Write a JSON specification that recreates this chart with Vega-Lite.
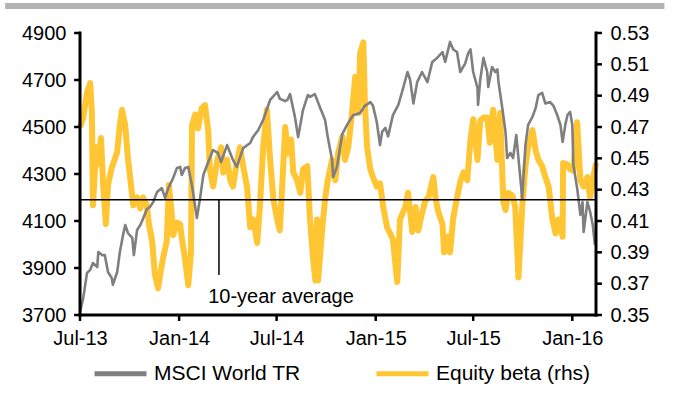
{
  "$schema": "https://vega.github.io/schema/vega-lite/v6.json",
  "width": 516,
  "height": 282,
  "autosize": "none",
  "padding": {"left": 80, "top": 33, "right": 95, "bottom": 82},
  "background": "white",
  "title": {"text": "Chart 3: MSCI World TR, global equity beta vs average (rhs)", "anchor": "start", "fontSize": 15, "fontWeight": "normal", "color": "black", "baseline": "alphabetic", "offset": 3},
  "config": {
    "font": "Liberation Sans",
    "view": {"stroke": null},
    "axis": {"grid": false, "labelColor": "black", "labelFontSize": 20, "labelFlush": false},
    "legend": {"orient": "none", "legendX": 12, "legendY": 312, "direction": "horizontal", "title": null, "padding": 0, "labelFontSize": 21, "labelColor": "black", "symbolType": "stroke", "symbolSize": 2700, "symbolStrokeWidth": 5, "labelOffset": 5, "columnPadding": 65}
  },
  "datasets": {
    "msci": [
      {"d": "2013-07-01", "v": 3713}, {"d": "2013-07-07", "v": 3772}, {"d": "2013-07-14", "v": 3879}, {"d": "2013-07-20", "v": 3892}, {"d": "2013-07-25", "v": 3921}, {"d": "2013-08-02", "v": 3904}, {"d": "2013-08-04", "v": 3968}, {"d": "2013-08-11", "v": 3955}, {"d": "2013-08-16", "v": 3955}, {"d": "2013-08-22", "v": 3883}, {"d": "2013-08-29", "v": 3857}, {"d": "2013-08-31", "v": 3828}, {"d": "2013-09-08", "v": 3883}, {"d": "2013-09-13", "v": 3968}, {"d": "2013-09-19", "v": 4041}, {"d": "2013-09-23", "v": 4083}, {"d": "2013-09-28", "v": 4049}, {"d": "2013-10-06", "v": 4028}, {"d": "2013-10-09", "v": 3955}, {"d": "2013-10-15", "v": 4062}, {"d": "2013-10-21", "v": 4083}, {"d": "2013-10-26", "v": 4110}, {"d": "2013-11-02", "v": 4150}, {"d": "2013-11-08", "v": 4160}, {"d": "2013-11-14", "v": 4181}, {"d": "2013-11-21", "v": 4223}, {"d": "2013-11-30", "v": 4240}, {"d": "2013-12-06", "v": 4198}, {"d": "2013-12-12", "v": 4240}, {"d": "2013-12-21", "v": 4283}, {"d": "2013-12-28", "v": 4326}, {"d": "2014-01-03", "v": 4330}, {"d": "2014-01-06", "v": 4296}, {"d": "2014-01-12", "v": 4326}, {"d": "2014-01-18", "v": 4330}, {"d": "2014-01-25", "v": 4250}, {"d": "2014-02-03", "v": 4113}, {"d": "2014-02-09", "v": 4198}, {"d": "2014-02-15", "v": 4296}, {"d": "2014-02-22", "v": 4338}, {"d": "2014-03-05", "v": 4402}, {"d": "2014-03-14", "v": 4390}, {"d": "2014-03-20", "v": 4351}, {"d": "2014-03-31", "v": 4423}, {"d": "2014-04-11", "v": 4360}, {"d": "2014-04-18", "v": 4330}, {"d": "2014-04-30", "v": 4410}, {"d": "2014-05-13", "v": 4432}, {"d": "2014-05-18", "v": 4457}, {"d": "2014-05-28", "v": 4487}, {"d": "2014-06-06", "v": 4530}, {"d": "2014-06-19", "v": 4615}, {"d": "2014-07-02", "v": 4649}, {"d": "2014-07-07", "v": 4620}, {"d": "2014-07-17", "v": 4610}, {"d": "2014-07-21", "v": 4615}, {"d": "2014-07-26", "v": 4640}, {"d": "2014-08-04", "v": 4543}, {"d": "2014-08-10", "v": 4457}, {"d": "2014-08-19", "v": 4572}, {"d": "2014-08-28", "v": 4636}, {"d": "2014-09-01", "v": 4628}, {"d": "2014-09-10", "v": 4640}, {"d": "2014-09-20", "v": 4581}, {"d": "2014-09-29", "v": 4530}, {"d": "2014-10-04", "v": 4457}, {"d": "2014-10-12", "v": 4360}, {"d": "2014-10-14", "v": 4287}, {"d": "2014-10-21", "v": 4330}, {"d": "2014-10-27", "v": 4415}, {"d": "2014-10-31", "v": 4470}, {"d": "2014-11-09", "v": 4510}, {"d": "2014-11-20", "v": 4550}, {"d": "2014-12-03", "v": 4560}, {"d": "2014-12-12", "v": 4590}, {"d": "2014-12-22", "v": 4606}, {"d": "2014-12-27", "v": 4590}, {"d": "2015-01-03", "v": 4521}, {"d": "2015-01-09", "v": 4423}, {"d": "2015-01-13", "v": 4480}, {"d": "2015-01-19", "v": 4496}, {"d": "2015-01-24", "v": 4460}, {"d": "2015-02-02", "v": 4551}, {"d": "2015-02-12", "v": 4594}, {"d": "2015-02-21", "v": 4666}, {"d": "2015-03-01", "v": 4734}, {"d": "2015-03-06", "v": 4700}, {"d": "2015-03-12", "v": 4600}, {"d": "2015-03-19", "v": 4691}, {"d": "2015-03-28", "v": 4734}, {"d": "2015-04-07", "v": 4691}, {"d": "2015-04-16", "v": 4777}, {"d": "2015-04-25", "v": 4794}, {"d": "2015-05-05", "v": 4819}, {"d": "2015-05-10", "v": 4777}, {"d": "2015-05-19", "v": 4862}, {"d": "2015-05-25", "v": 4830}, {"d": "2015-06-01", "v": 4819}, {"d": "2015-06-07", "v": 4734}, {"d": "2015-06-16", "v": 4770}, {"d": "2015-06-22", "v": 4815}, {"d": "2015-06-26", "v": 4830}, {"d": "2015-07-01", "v": 4734}, {"d": "2015-07-09", "v": 4666}, {"d": "2015-07-10", "v": 4594}, {"d": "2015-07-14", "v": 4700}, {"d": "2015-07-20", "v": 4794}, {"d": "2015-07-27", "v": 4734}, {"d": "2015-07-29", "v": 4670}, {"d": "2015-08-05", "v": 4755}, {"d": "2015-08-11", "v": 4734}, {"d": "2015-08-15", "v": 4745}, {"d": "2015-08-17", "v": 4691}, {"d": "2015-08-24", "v": 4581}, {"d": "2015-08-30", "v": 4479}, {"d": "2015-09-02", "v": 4368}, {"d": "2015-09-08", "v": 4390}, {"d": "2015-09-13", "v": 4368}, {"d": "2015-09-19", "v": 4466}, {"d": "2015-09-23", "v": 4368}, {"d": "2015-09-30", "v": 4198}, {"d": "2015-10-06", "v": 4423}, {"d": "2015-10-11", "v": 4509}, {"d": "2015-10-19", "v": 4543}, {"d": "2015-10-25", "v": 4581}, {"d": "2015-10-30", "v": 4636}, {"d": "2015-11-06", "v": 4645}, {"d": "2015-11-12", "v": 4600}, {"d": "2015-11-21", "v": 4606}, {"d": "2015-11-27", "v": 4590}, {"d": "2015-12-04", "v": 4551}, {"d": "2015-12-10", "v": 4509}, {"d": "2015-12-14", "v": 4436}, {"d": "2015-12-19", "v": 4509}, {"d": "2015-12-23", "v": 4551}, {"d": "2015-12-28", "v": 4564}, {"d": "2016-01-01", "v": 4509}, {"d": "2016-01-03", "v": 4338}, {"d": "2016-01-10", "v": 4240}, {"d": "2016-01-16", "v": 4126}, {"d": "2016-01-20", "v": 4181}, {"d": "2016-01-22", "v": 4053}, {"d": "2016-01-29", "v": 4181}, {"d": "2016-02-03", "v": 4140}, {"d": "2016-02-08", "v": 4083}, {"d": "2016-02-12", "v": 3998}
    ],
    "beta": [
      {"d": "2013-07-01", "v": 0.470}, {"d": "2013-07-07", "v": 0.476}, {"d": "2013-07-14", "v": 0.492}, {"d": "2013-07-20", "v": 0.498}, {"d": "2013-07-23", "v": 0.480}, {"d": "2013-07-25", "v": 0.420}, {"d": "2013-07-31", "v": 0.457}, {"d": "2013-08-03", "v": 0.446}, {"d": "2013-08-09", "v": 0.463}, {"d": "2013-08-13", "v": 0.433}, {"d": "2013-08-18", "v": 0.408}, {"d": "2013-08-22", "v": 0.433}, {"d": "2013-08-29", "v": 0.444}, {"d": "2013-09-02", "v": 0.448}, {"d": "2013-09-08", "v": 0.454}, {"d": "2013-09-13", "v": 0.471}, {"d": "2013-09-17", "v": 0.481}, {"d": "2013-09-23", "v": 0.471}, {"d": "2013-09-28", "v": 0.450}, {"d": "2013-10-02", "v": 0.438}, {"d": "2013-10-08", "v": 0.420}, {"d": "2013-10-15", "v": 0.425}, {"d": "2013-10-21", "v": 0.418}, {"d": "2013-10-26", "v": 0.425}, {"d": "2013-11-02", "v": 0.420}, {"d": "2013-11-06", "v": 0.408}, {"d": "2013-11-12", "v": 0.397}, {"d": "2013-11-17", "v": 0.376}, {"d": "2013-11-23", "v": 0.367}, {"d": "2013-11-28", "v": 0.378}, {"d": "2013-12-02", "v": 0.386}, {"d": "2013-12-09", "v": 0.397}, {"d": "2013-12-13", "v": 0.433}, {"d": "2013-12-18", "v": 0.416}, {"d": "2013-12-21", "v": 0.401}, {"d": "2013-12-28", "v": 0.409}, {"d": "2014-01-03", "v": 0.408}, {"d": "2014-01-06", "v": 0.399}, {"d": "2014-01-12", "v": 0.386}, {"d": "2014-01-18", "v": 0.369}, {"d": "2014-01-23", "v": 0.390}, {"d": "2014-01-25", "v": 0.471}, {"d": "2014-01-31", "v": 0.478}, {"d": "2014-02-05", "v": 0.469}, {"d": "2014-02-12", "v": 0.482}, {"d": "2014-02-18", "v": 0.484}, {"d": "2014-02-24", "v": 0.468}, {"d": "2014-02-27", "v": 0.443}, {"d": "2014-03-05", "v": 0.432}, {"d": "2014-03-13", "v": 0.449}, {"d": "2014-03-20", "v": 0.457}, {"d": "2014-03-24", "v": 0.441}, {"d": "2014-03-31", "v": 0.449}, {"d": "2014-04-06", "v": 0.436}, {"d": "2014-04-11", "v": 0.432}, {"d": "2014-04-18", "v": 0.447}, {"d": "2014-04-24", "v": 0.457}, {"d": "2014-04-30", "v": 0.445}, {"d": "2014-05-07", "v": 0.432}, {"d": "2014-05-13", "v": 0.406}, {"d": "2014-05-19", "v": 0.411}, {"d": "2014-05-26", "v": 0.396}, {"d": "2014-05-31", "v": 0.419}, {"d": "2014-06-06", "v": 0.457}, {"d": "2014-06-13", "v": 0.481}, {"d": "2014-06-19", "v": 0.449}, {"d": "2014-06-25", "v": 0.424}, {"d": "2014-07-02", "v": 0.411}, {"d": "2014-07-07", "v": 0.404}, {"d": "2014-07-13", "v": 0.443}, {"d": "2014-07-17", "v": 0.470}, {"d": "2014-07-22", "v": 0.453}, {"d": "2014-07-28", "v": 0.462}, {"d": "2014-08-01", "v": 0.441}, {"d": "2014-08-08", "v": 0.436}, {"d": "2014-08-14", "v": 0.428}, {"d": "2014-08-19", "v": 0.443}, {"d": "2014-08-27", "v": 0.445}, {"d": "2014-09-01", "v": 0.411}, {"d": "2014-09-07", "v": 0.385}, {"d": "2014-09-11", "v": 0.372}, {"d": "2014-09-14", "v": 0.411}, {"d": "2014-09-16", "v": 0.372}, {"d": "2014-09-24", "v": 0.406}, {"d": "2014-09-29", "v": 0.424}, {"d": "2014-10-04", "v": 0.436}, {"d": "2014-10-12", "v": 0.449}, {"d": "2014-10-18", "v": 0.436}, {"d": "2014-10-23", "v": 0.453}, {"d": "2014-10-31", "v": 0.464}, {"d": "2014-11-05", "v": 0.449}, {"d": "2014-11-11", "v": 0.457}, {"d": "2014-11-18", "v": 0.479}, {"d": "2014-11-24", "v": 0.502}, {"d": "2014-11-30", "v": 0.479}, {"d": "2014-12-03", "v": 0.517}, {"d": "2014-12-09", "v": 0.524}, {"d": "2014-12-12", "v": 0.485}, {"d": "2014-12-16", "v": 0.457}, {"d": "2014-12-22", "v": 0.443}, {"d": "2014-12-27", "v": 0.438}, {"d": "2015-01-03", "v": 0.432}, {"d": "2015-01-09", "v": 0.434}, {"d": "2015-01-15", "v": 0.419}, {"d": "2015-01-22", "v": 0.406}, {"d": "2015-01-28", "v": 0.402}, {"d": "2015-02-02", "v": 0.398}, {"d": "2015-02-10", "v": 0.371}, {"d": "2015-02-15", "v": 0.411}, {"d": "2015-02-25", "v": 0.419}, {"d": "2015-03-02", "v": 0.428}, {"d": "2015-03-10", "v": 0.403}, {"d": "2015-03-16", "v": 0.419}, {"d": "2015-03-21", "v": 0.404}, {"d": "2015-03-28", "v": 0.415}, {"d": "2015-04-03", "v": 0.423}, {"d": "2015-04-09", "v": 0.425}, {"d": "2015-04-18", "v": 0.438}, {"d": "2015-04-22", "v": 0.425}, {"d": "2015-04-27", "v": 0.416}, {"d": "2015-05-05", "v": 0.408}, {"d": "2015-05-08", "v": 0.390}, {"d": "2015-05-16", "v": 0.400}, {"d": "2015-05-19", "v": 0.390}, {"d": "2015-05-25", "v": 0.412}, {"d": "2015-06-01", "v": 0.425}, {"d": "2015-06-07", "v": 0.435}, {"d": "2015-06-13", "v": 0.441}, {"d": "2015-06-20", "v": 0.436}, {"d": "2015-06-26", "v": 0.462}, {"d": "2015-07-01", "v": 0.475}, {"d": "2015-07-09", "v": 0.449}, {"d": "2015-07-14", "v": 0.474}, {"d": "2015-07-20", "v": 0.476}, {"d": "2015-07-27", "v": 0.476}, {"d": "2015-08-01", "v": 0.460}, {"d": "2015-08-07", "v": 0.481}, {"d": "2015-08-15", "v": 0.449}, {"d": "2015-08-20", "v": 0.479}, {"d": "2015-08-26", "v": 0.422}, {"d": "2015-08-30", "v": 0.417}, {"d": "2015-09-04", "v": 0.428}, {"d": "2015-09-12", "v": 0.426}, {"d": "2015-09-17", "v": 0.419}, {"d": "2015-09-23", "v": 0.374}, {"d": "2015-09-30", "v": 0.419}, {"d": "2015-10-06", "v": 0.445}, {"d": "2015-10-11", "v": 0.457}, {"d": "2015-10-19", "v": 0.468}, {"d": "2015-10-25", "v": 0.455}, {"d": "2015-10-30", "v": 0.449}, {"d": "2015-11-06", "v": 0.445}, {"d": "2015-11-12", "v": 0.438}, {"d": "2015-11-18", "v": 0.432}, {"d": "2015-11-25", "v": 0.411}, {"d": "2015-12-01", "v": 0.402}, {"d": "2015-12-06", "v": 0.411}, {"d": "2015-12-14", "v": 0.400}, {"d": "2015-12-15", "v": 0.447}, {"d": "2015-12-23", "v": 0.446}, {"d": "2015-12-28", "v": 0.443}, {"d": "2016-01-03", "v": 0.442}, {"d": "2016-01-10", "v": 0.473}, {"d": "2016-01-16", "v": 0.436}, {"d": "2016-01-22", "v": 0.432}, {"d": "2016-01-29", "v": 0.438}, {"d": "2016-02-03", "v": 0.425}, {"d": "2016-02-08", "v": 0.436}, {"d": "2016-02-14", "v": 0.447}
    ]
  },
  "layer": [
    {
      "data": {"name": "beta"},
      "mark": {"type": "line", "strokeJoin": "round", "strokeWidth": 6},
      "encoding": {
        "x": {"field": "d", "type": "temporal", "title": null, "scale": {"domain": ["2013-07-01", "2016-02-14"]}, "axis": {"orient": "bottom", "format": "%b-%y", "labelPadding": 7, "domain": false, "ticks": true, "tickOpacity": 0, "tickSize": 6, "tickCount": {"interval": "month", "step": 6}}},
        "y": {"field": "v", "type": "quantitative", "title": null, "scale": {"domain": [0.35, 0.53], "nice": false, "zero": false}, "axis": {"orient": "right", "format": ".2f", "labelPadding": 8, "labelOverlap": false, "domain": false, "ticks": true, "tickOpacity": 0, "tickSize": 6, "values": [0.35, 0.37, 0.39, 0.41, 0.43, 0.45, 0.47, 0.49, 0.51, 0.53]}},
        "color": {"datum": "Equity beta (rhs)", "type": "nominal", "scale": {"domain": ["MSCI World TR", "Equity beta (rhs)"], "range": ["#7f7f7f", "#FFC533"]}}
      }
    },
    {
      "layer": [
        {
          "data": {"name": "msci"},
          "mark": {"type": "line", "strokeJoin": "round", "strokeWidth": 2.6},
          "encoding": {
            "x": {"field": "d", "type": "temporal"},
            "y": {"field": "v", "type": "quantitative", "title": null, "scale": {"domain": [3700, 4900], "nice": false, "zero": false}, "axis": {"orient": "left", "format": "d", "labelPadding": 8, "domain": false, "ticks": true, "tickOpacity": 0, "tickSize": 6, "values": [3700, 3900, 4100, 4300, 4500, 4700, 4900]}},
            "color": {"datum": "MSCI World TR", "type": "nominal"}
          }
        },
        {
          "data": {"values": [{"v": 3700}, {"v": 3900}, {"v": 4100}, {"v": 4300}, {"v": 4500}, {"v": 4700}, {"v": 4900}]},
          "mark": {"type": "rule", "color": "black", "strokeWidth": 2.5},
          "encoding": {
            "x": {"datum": {"year": 2013, "month": 6, "date": 20}, "type": "temporal"},
            "x2": {"datum": {"year": 2013, "month": 7, "date": 1}},
            "y": {"field": "v", "type": "quantitative"}
          }
        }
      ]
    },
    {
      "layer": [
        {"data": {"values": [{}]},
         "mark": {"type": "rule", "color": "black", "strokeWidth": 1.5},
         "encoding": {"y": {"datum": 0.4235, "type": "quantitative", "scale": {"domain": [0.35, 0.53], "nice": false, "zero": false}, "axis": null}}},
        {"data": {"values": [{}]},
         "mark": {"type": "rule", "color": "black", "strokeWidth": 1.5},
         "encoding": {
           "x": {"datum": {"year": 2014, "month": 3, "date": 16}, "type": "temporal"},
           "y": {"datum": 0.4235, "type": "quantitative", "axis": null},
           "y2": {"datum": 0.3756}}},
        {"data": {"values": [{}]},
         "mark": {"type": "text", "text": "10-year average", "fontSize": 20, "align": "left", "baseline": "alphabetic", "color": "black"},
         "encoding": {
           "x": {"datum": {"year": 2014, "month": 2, "date": 24}, "type": "temporal"},
           "y": {"datum": 0.3577, "type": "quantitative", "axis": null}}},
        {"data": {"values": [{"v": 0.35}, {"v": 0.37}, {"v": 0.39}, {"v": 0.41}, {"v": 0.43}, {"v": 0.45}, {"v": 0.47}, {"v": 0.49}, {"v": 0.51}, {"v": 0.53}]},
         "mark": {"type": "rule", "color": "black", "strokeWidth": 2.5},
         "encoding": {
           "x": {"datum": {"year": 2016, "month": 2, "date": 14}, "type": "temporal"},
           "x2": {"datum": {"year": 2016, "month": 2, "date": 25}},
           "y": {"field": "v", "type": "quantitative", "axis": null}}},
        {"data": {"values": [{"d": "2013-07-01"}, {"d": "2014-01-01"}, {"d": "2014-07-01"}, {"d": "2015-01-01"}, {"d": "2015-07-01"}, {"d": "2016-01-01"}]},
         "mark": {"type": "rule", "color": "black", "strokeWidth": 2.5},
         "encoding": {
           "x": {"field": "d", "type": "temporal"},
           "y": {"datum": 0.35, "type": "quantitative", "axis": null},
           "y2": {"datum": 0.3462}}},
        {"data": {"values": [{}]},
         "mark": {"type": "rule", "color": "black", "strokeWidth": 3, "strokeCap": "square"},
         "encoding": {"y": {"datum": 0.35, "type": "quantitative", "axis": null}}},
        {"data": {"values": [{}]},
         "mark": {"type": "rule", "color": "black", "strokeWidth": 3, "strokeCap": "square"},
         "encoding": {"x": {"datum": {"year": 2013, "month": 7, "date": 1}, "type": "temporal"}}},
        {"data": {"values": [{}]},
         "mark": {"type": "rule", "color": "black", "strokeWidth": 3, "strokeCap": "square"},
         "encoding": {"x": {"datum": {"year": 2016, "month": 2, "date": 14}, "type": "temporal"}}},
        {"data": {"values": [{}]},
         "mark": {"type": "rule", "color": "#b3b3b3", "strokeWidth": 6},
         "encoding": {
           "x": {"datum": {"year": 2013, "month": 2, "date": 12}, "type": "temporal"},
           "x2": {"datum": {"year": 2016, "month": 6, "date": 20}},
           "y": {"datum": 0.5472, "type": "quantitative", "axis": null}}}
      ]
    }
  ],
  "resolve": {"scale": {"y": "independent"}}
}
